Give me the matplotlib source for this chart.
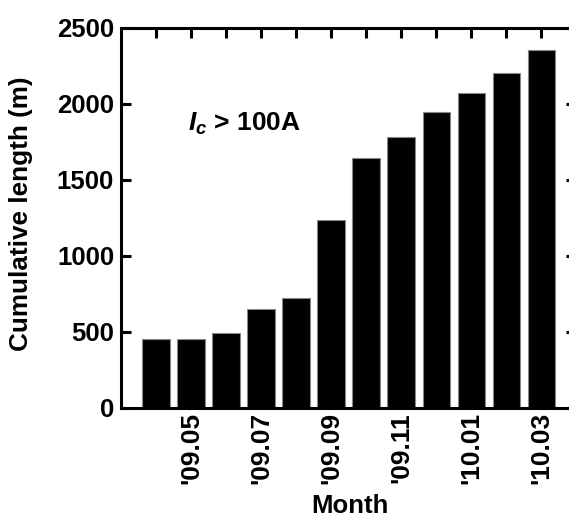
import matplotlib
matplotlib.use("Agg")
import matplotlib.pyplot as plt
import numpy as np

months = ["'09.04", "'09.05", "'09.06", "'09.07", "'09.08", "'09.09",
          "'09.10", "'09.11", "'09.12", "'10.01", "'10.02", "'10.03"]
lengths = [454, 454, 495, 651, 724, 1237, 1645, 1783, 1945, 2074, 2204, 2355]
yticks = [0, 500, 1000, 1500, 2000, 2500]

plt.rcParams['font.family'] = ['Liberation Sans', 'DejaVu Sans']
plt.rcParams['font.weight'] = 'bold'
plt.rcParams['mathtext.fontset'] = 'custom'
plt.rcParams['mathtext.it'] = 'Liberation Sans:bold:italic'
plt.rcParams['mathtext.rm'] = 'Liberation Sans:bold'

fig = plt.figure(figsize=(5.69, 5.18), dpi=100)
ax = fig.add_axes([0.2127, 0.2124, 0.8, 0.7336])

x = np.arange(len(months))
ax.bar(x, lengths, width=0.78, color='black', edgecolor='#888888', linewidth=0.8)

ax.set_xlim(-1, 12)
ax.set_ylim(0, 2500)
ax.set_yticks(yticks)
ax.set_xticks(x)
ax.set_xticklabels([m if i % 2 == 1 else '' for i, m in enumerate(months)],
                   rotation=90, fontsize=19, fontweight='bold')
ax.set_yticklabels([str(v) for v in yticks], fontsize=18.5, fontweight='bold')

for s in ax.spines.values():
    s.set_linewidth(2.2)
ax.tick_params(direction='in', length=7, width=2.2, top=True, right=True, pad=5)
ax.tick_params(axis='x', pad=3)

ax.set_ylabel('Cumulative length (m)', fontsize=18.8, fontweight='bold')
ax.yaxis.set_label_coords(-0.193, 0.51)
ax.set_xlabel('Month', fontsize=18.5, fontweight='bold')
ax.xaxis.set_label_coords(0.503, -0.226)

ax.text(0.9, 1870, r'$I_c$ > 100A', fontsize=19, fontweight='bold', ha='left', va='center')

fig.savefig('out.png', dpi=100)
